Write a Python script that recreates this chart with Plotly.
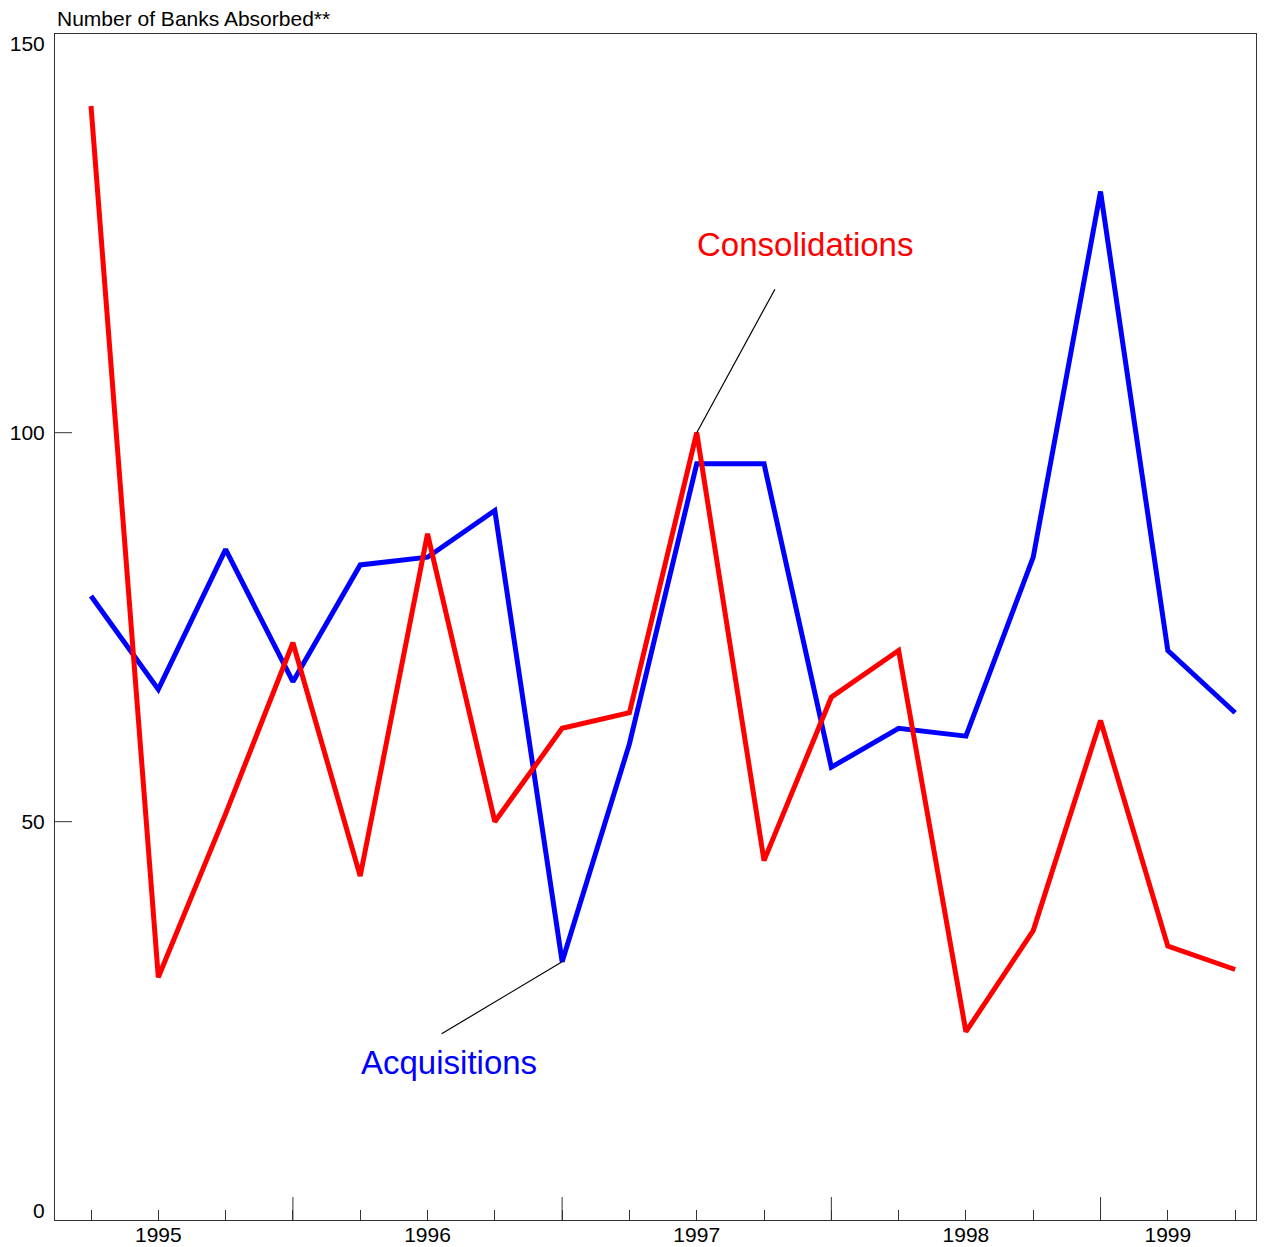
import plotly.graph_objects as go

# Quarterly observations, 1994 Q4 through 1999 Q1
quarters = ["1994Q4", "1995Q1", "1995Q2", "1995Q3", "1995Q4",
            "1996Q1", "1996Q2", "1996Q3", "1996Q4",
            "1997Q1", "1997Q2", "1997Q3", "1997Q4",
            "1998Q1", "1998Q2", "1998Q3", "1998Q4",
            "1999Q1"]
acquisitions = [79, 67, 85, 68, 83, 84, 90, 32, 60, 96, 96, 57, 62, 61, 84, 131, 72, 64]
consolidations = [142, 30, 51, 73, 43, 87, 50, 62, 64, 100, 45, 66, 72, 23, 36, 63, 34, 31]

year_label_pos = [1, 5, 9, 13, 16]
year_labels = ["1995", "1996", "1997", "1998", "1999"]
major_tick_pos = [3, 7, 11, 15]
y_tickvals = [0, 50, 100, 150]
y_inner_ticks = [50, 100]

idx = list(range(len(quarters)))
FONT = "Arial, Liberation Sans, sans-serif"
AXC = "#333333"
xr = [-0.535, 17.31]
yr = [-1.2, 151.25]
ML, MR, MT, MB = 46.5, 17, 26, 35
W, H = 1265, 1247
PLOT_W = W - ML - MR
PLOT_H = H - MT - MB

fig = go.Figure()
fig.add_trace(go.Scatter(x=idx, y=acquisitions, mode="lines", name="Acquisitions",
                         line=dict(color="#0000FF", width=5), hoverinfo="skip"))
fig.add_trace(go.Scatter(x=idx, y=consolidations, mode="lines", name="Consolidations",
                         line=dict(color="#FF0000", width=5), hoverinfo="skip"))

ticktext = [""] * len(idx)
for p, t in zip(year_label_pos, year_labels):
    ticktext[p] = t

fig.update_layout(
    width=W, height=H,
    margin=dict(l=ML, r=MR, t=MT, b=MB, autoexpand=False),
    paper_bgcolor="white", plot_bgcolor="white",
    showlegend=False,
    font=dict(family=FONT, size=21, color="black"),
    xaxis=dict(range=xr, tickmode="array", tickvals=idx, ticktext=ticktext,
               ticks="inside", ticklen=10, tickwidth=1, tickcolor=AXC,
               showline=True, linecolor=AXC, linewidth=1, mirror=True,
               showgrid=False, zeroline=False, tickfont=dict(size=21),
               ticklabelstandoff=-4, automargin=False),
    yaxis=dict(range=yr, tickmode="array", tickvals=y_tickvals, ticks="",
               showline=True, linecolor=AXC, linewidth=1, mirror=True,
               showgrid=False, zeroline=False, tickfont=dict(size=21),
               ticklabelstandoff=5, automargin=False),
)

# Longer year-boundary ticks on the x axis
for p in major_tick_pos:
    fig.add_shape(type="line", xref="x", yref="paper", x0=p, x1=p,
                  y0=0, y1=23 / PLOT_H, line=dict(color=AXC, width=1))
# Inside ticks on the y axis at 50 and 100
for v in y_inner_ticks:
    fig.add_shape(type="line", xref="paper", yref="y", x0=0, x1=17 / PLOT_W,
                  y0=v, y1=v, line=dict(color=AXC, width=1))

# Title above plot
fig.add_annotation(text="Number of Banks Absorbed**", xref="paper", yref="paper",
                   x=0, y=1, xanchor="left", yanchor="bottom", yshift=2,
                   showarrow=False, font=dict(size=21, family=FONT, color="black"))

# Series labels (positions in page pixels; page offset 8px)
fig.add_annotation(text="Consolidations", xref="paper", yref="paper",
                   x=(805 - 54.5) / PLOT_W, y=(1220 - 244) / PLOT_H,
                   xanchor="center", yanchor="middle", showarrow=False,
                   font=dict(size=33, family=FONT, color="#FF0000"))
fig.add_annotation(text="Acquisitions", xref="paper", yref="paper",
                   x=(449 - 54.5) / PLOT_W, y=(1220 - 1062) / PLOT_H,
                   xanchor="center", yanchor="middle", showarrow=False,
                   font=dict(size=33, family=FONT, color="#0000FF"))

# Leader lines pointing to the data points
fig.add_annotation(x=9, y=consolidations[9], xref="x", yref="y", text="",
                   showarrow=True, arrowhead=0, arrowwidth=1.2, arrowcolor="black",
                   ax=79, ay=-145, standoff=0, startstandoff=0)
fig.add_annotation(x=7, y=acquisitions[7], xref="x", yref="y", text="",
                   showarrow=True, arrowhead=0, arrowwidth=1.2, arrowcolor="black",
                   ax=-122, ay=73, standoff=0, startstandoff=0)

fig.write_html("out.html")
